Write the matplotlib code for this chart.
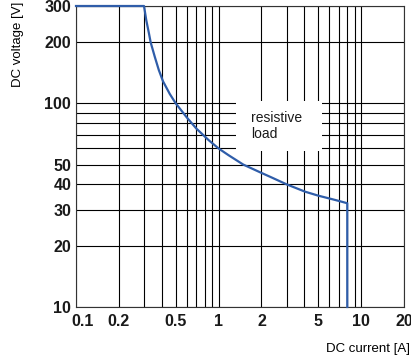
import matplotlib.pyplot as plt
from matplotlib.ticker import FixedLocator, NullFormatter
from matplotlib.patches import Rectangle
import matplotlib.transforms as mtransforms

plt.rcParams['font.family'] = ['Liberation Sans', 'DejaVu Sans']

# load limit curve
current = [0.1, 0.3, 0.311, 0.325, 0.334, 0.357, 0.381, 0.408, 0.455, 0.5, 0.6,
           0.7, 0.85, 1.0, 1.17, 1.49, 2.0, 2.36, 3.0, 4.05, 5.0, 6.6, 8.0, 8.0]
voltage = [300, 300, 256, 220, 199, 169, 145.5, 128, 111, 100, 85,
           75, 66, 60, 55.7, 50, 45.5, 43.2, 40, 36.8, 35.2, 33.5, 32.3, 10]

x_major = [0.1, 0.2, 0.5, 1, 2, 5, 10, 20]
x_labels = ['0.1', '0.2', '0.5', '1', '2', '5', '10', '20']
x_minor = [0.3, 0.4, 0.6, 0.7, 0.8, 0.9, 3, 4, 6, 7, 8, 9]
y_major = [10, 20, 30, 40, 50, 100, 200, 300]
y_labels = ['10', '20', '30', '40', '50', '100', '200', '300']
y_minor = [60, 70, 80, 90]

fig = plt.figure(figsize=(4.11, 3.63), dpi=100)
ax = fig.add_axes([76/411, 1 - 307/363, 328/411, 301/363])

ax.set_xscale('log')
ax.set_yscale('log')
ax.set_xlim(0.1, 20)
ax.set_ylim(10, 300)

ax.xaxis.set_major_locator(FixedLocator(x_major))
ax.xaxis.set_minor_locator(FixedLocator(x_minor))
ax.yaxis.set_major_locator(FixedLocator(y_major))
ax.yaxis.set_minor_locator(FixedLocator(y_minor))
ax.set_xticklabels(x_labels, fontweight='bold')
ax.set_yticklabels(y_labels, fontweight='bold')
ax.xaxis.set_minor_formatter(NullFormatter())
ax.yaxis.set_minor_formatter(NullFormatter())

ax.tick_params(axis='both', which='both', length=0, labelsize=11.5, labelcolor='#1a1a1a')
ax.tick_params(axis='x', pad=5)
ax.tick_params(axis='y', pad=3.5)

ax.set_axisbelow(True)
ax.grid(True, which='both', color='black', linewidth=0.8)
for spine in ax.spines.values():
    spine.set_linewidth(0.8)
    spine.set_color('#333333')

# shift the first x label away from the corner
lbl = ax.get_xticklabels()[0]
lbl.set_transform(lbl.get_transform() + mtransforms.ScaledTranslation(7/100, 0, fig.dpi_scale_trans))

# white box for the label
ax.add_patch(Rectangle((0.489, 0.518), 0.261, 0.166, transform=ax.transAxes,
                       facecolor='white', edgecolor='none', zorder=1))
ax.text(0.535, 0.60, 'resistive\nload', transform=ax.transAxes, fontsize=10,
        ha='left', va='center', linespacing=1.2, zorder=2, color='#1a1a1a')

ax.plot(current, voltage, color='#2f5da9', linewidth=1.6, zorder=3, clip_on=False)

fig.text(410/411, 1 - 349/363, 'DC current [A]', fontsize=9.5, ha='right', va='center')
fig.text(18/411, 1 - 2/363, 'DC voltage [V]', fontsize=9.5, ha='center', va='top', rotation=90)

fig.savefig('out.png', dpi=100)
